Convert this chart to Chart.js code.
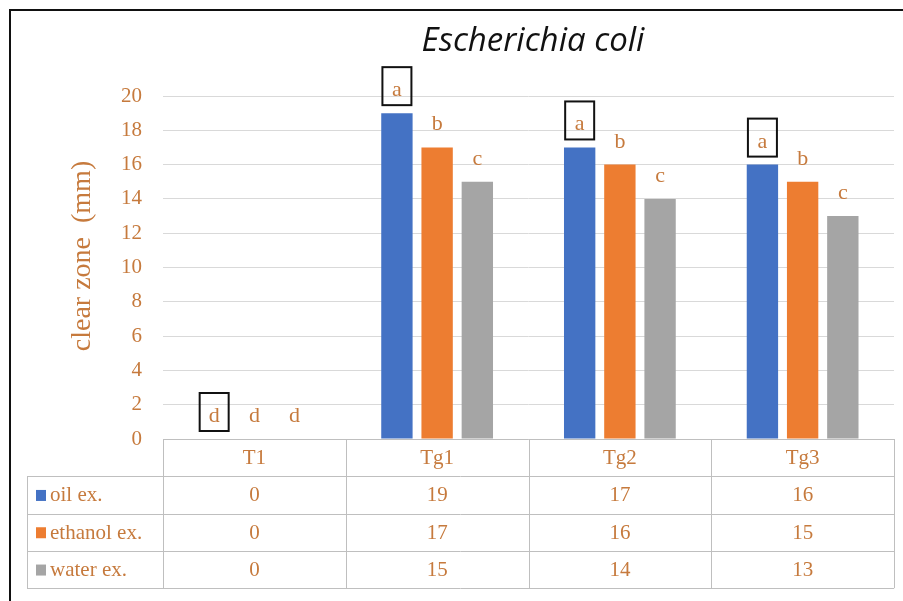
<!DOCTYPE html>
<html>
<head>
<meta charset="utf-8">
<script src="https://cdn.jsdelivr.net/npm/chart.js@4.4.0/dist/chart.umd.min.js"></script>
<style>
  html, body { margin: 0; padding: 0; background: #fff; }
  #wrap { width: 903px; height: 601px; }
</style>
</head>
<body>
<div id="wrap"><canvas id="ecoliChart" width="903" height="601"></canvas></div>
<script>
// data
const categories = ['T1', 'Tg1', 'Tg2', 'Tg3'];
const seriesNames = ['oil ex.', 'ethanol ex.', 'water ex.'];
const oilValues = [0, 19, 17, 16];
const ethanolValues = [0, 17, 16, 15];
const waterValues = [0, 15, 14, 13];
const oilLetters = ['d', 'a', 'a', 'a'];
const ethanolLetters = ['d', 'b', 'b', 'b'];
const waterLetters = ['d', 'c', 'c', 'c'];
const boxedSeries = [true, false, false];
const yMin = 0;
const yMax = 20;
const yStep = 2;

const chartTitle = 'Escherichia coli';
const yTitle = 'clear zone  (mm)';

const seriesColors = ['#4472C4', '#ED7D31', '#A5A5A5'];
const textOrange = '#C67A3D';
const serif = '"Liberation Serif", "Times New Roman", serif';

const seriesValues = [oilValues, ethanolValues, waterValues];
const seriesLetters = [oilLetters, ethanolLetters, waterLetters];

const decorations = {
    id: 'decorations',
    afterDatasetsDraw(chart) {
        // significance letters above each bar
        const ctx = chart.ctx;
        ctx.save();
        ctx.font = '22px ' + serif;
        ctx.textAlign = 'center';
        ctx.textBaseline = 'alphabetic';
        seriesLetters.forEach((letters, s) => {
            const meta = chart.getDatasetMeta(s);
            meta.data.forEach((bar, i) => {
                ctx.fillStyle = textOrange;
                ctx.fillText(letters[i], bar.x, bar.y - 17);
                if (boxedSeries[s]) {
                    ctx.strokeStyle = '#111';
                    ctx.lineWidth = 2;
                    ctx.strokeRect(bar.x - 14.5, bar.y - 46, 29, 38);
                }
            });
        });
        ctx.restore();
    },
    afterDraw(chart) {
        const ctx = chart.ctx;
        const ca = chart.chartArea;
        const x = chart.scales.x;
        const colW = (ca.right - ca.left) / categories.length;
        const rowH = 37.3;
        const top = ca.bottom;
        const legendLeft = 27;
        const bottom = top + rowH * (seriesNames.length + 1);

        ctx.save();
        // data table grid
        ctx.strokeStyle = '#BFBFBF';
        ctx.lineWidth = 1;
        ctx.beginPath();
        ctx.moveTo(ca.left, Math.round(top) + 0.5);
        ctx.lineTo(ca.right, Math.round(top) + 0.5);
        for (let r = 1; r <= seriesNames.length + 1; r++) {
            const y = Math.round(top + rowH * r) + 0.5;
            ctx.moveTo(legendLeft, y);
            ctx.lineTo(ca.right, y);
        }
        for (let c = 0; c <= categories.length; c++) {
            const xx = Math.round(ca.left + colW * c) + 0.5;
            ctx.moveTo(xx, top);
            ctx.lineTo(xx, bottom);
        }
        ctx.moveTo(legendLeft + 0.5, top + rowH);
        ctx.lineTo(legendLeft + 0.5, bottom);
        ctx.stroke();

        // table text
        ctx.font = '21px ' + serif;
        ctx.fillStyle = textOrange;
        ctx.textBaseline = 'middle';
        ctx.textAlign = 'center';
        categories.forEach((cat, i) => {
            ctx.fillText(cat, x.getPixelForValue(i), top + rowH / 2 + 1);
        });
        seriesNames.forEach((name, s) => {
            const cy = top + rowH * (s + 1.5) + 1;
            ctx.textAlign = 'center';
            ctx.fillStyle = textOrange;
            seriesValues[s].forEach((v, i) => {
                ctx.fillText(String(v), x.getPixelForValue(i), cy);
            });
            ctx.fillStyle = seriesColors[s];
            ctx.fillRect(36, cy - 6, 10, 11);
            ctx.fillStyle = textOrange;
            ctx.textAlign = 'left';
            ctx.fillText(name, 50, cy);
        });

        // chart title
        ctx.fillStyle = '#111';
        ctx.font = 'italic 33px "Open Sans", Lato, sans-serif';
        ctx.textAlign = 'center';
        ctx.textBaseline = 'alphabetic';
        ctx.fillText(chartTitle, 533, 51);

        // y axis title
        ctx.save();
        ctx.translate(83, 256);
        ctx.rotate(-Math.PI / 2);
        ctx.font = '28px ' + serif;
        ctx.fillStyle = textOrange;
        ctx.textBaseline = 'middle';
        ctx.fillText(yTitle, 0, 0);
        ctx.restore();

        // outer frame
        ctx.strokeStyle = '#111';
        ctx.lineWidth = 2;
        ctx.beginPath();
        ctx.moveTo(10, chart.height);
        ctx.lineTo(10, 10);
        ctx.lineTo(chart.width, 10);
        ctx.stroke();
        ctx.restore();
    }
};

new Chart(document.getElementById('ecoliChart'), {
    type: 'bar',
    data: {
        labels: categories,
        datasets: seriesNames.map((name, s) => ({
            label: name,
            data: seriesValues[s],
            backgroundColor: seriesColors[s],
            borderWidth: 0,
            barPercentage: 0.78,
            categoryPercentage: 0.66
        }))
    },
    options: {
        responsive: false,
        animation: false,
        devicePixelRatio: 1,
        layout: { padding: { left: 0, top: 96, right: 9, bottom: 162 } },
        plugins: {
            legend: { display: false },
            title: { display: false },
            tooltip: { enabled: false }
        },
        scales: {
            x: { display: false },
            y: {
                min: yMin,
                max: yMax,
                ticks: {
                    stepSize: yStep,
                    color: textOrange,
                    padding: 21,
                    font: { family: serif, size: 21 }
                },
                grid: { color: '#D9D9D9', drawTicks: false },
                border: { display: false },
                afterFit(scale) { scale.width = 163; }
            }
        }
    },
    plugins: [decorations]
});
</script>
</body>
</html>
